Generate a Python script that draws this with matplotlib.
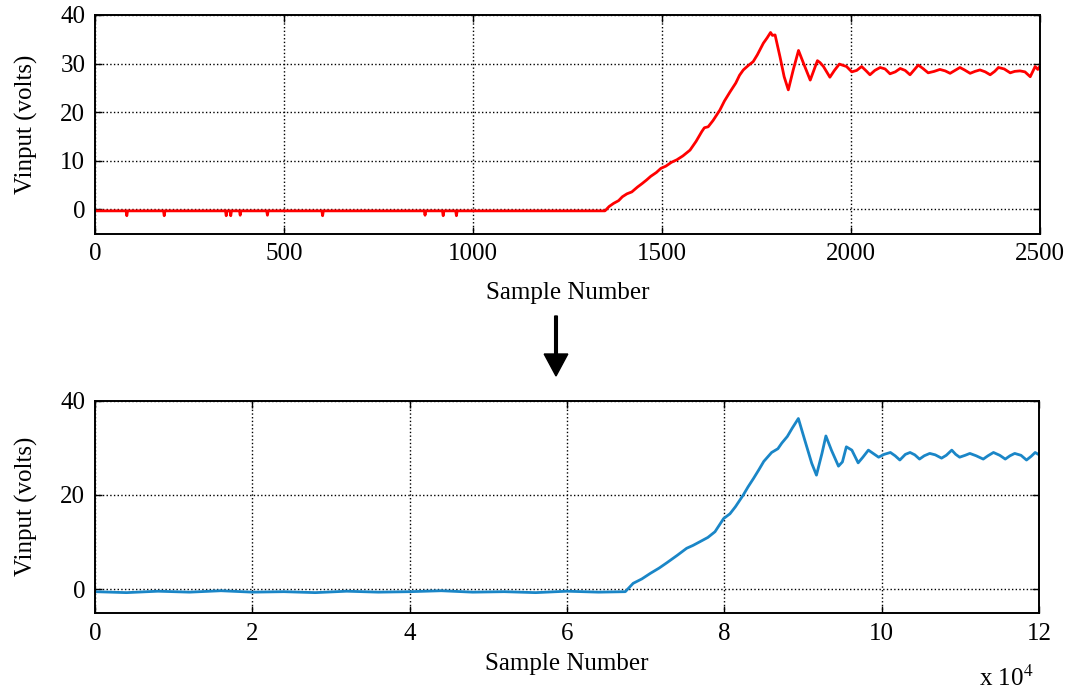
import matplotlib
matplotlib.use("Agg")
import matplotlib.pyplot as plt
from matplotlib.patches import FancyArrow
from matplotlib.ticker import FuncFormatter

plt.rcParams['font.family'] = ['Liberation Serif', 'DejaVu Serif']
plt.rcParams['mathtext.fontset'] = 'stix'

# Vinput recorded at the original rate (sample index, volts)
top_samples = [0, 82, 84, 86, 181, 183, 185, 345, 347, 349, 357, 359, 361,
               382, 384, 386, 454, 456, 458, 600, 602, 604, 871, 873, 875,
               919, 921, 923, 954, 956, 958, 1349, 1360, 1372, 1385, 1395,
               1407, 1420, 1435, 1447, 1459, 1470, 1485, 1497, 1510, 1525,
               1539, 1555, 1574, 1590, 1605, 1612, 1622, 1635, 1653, 1665,
               1680, 1695, 1705, 1715, 1728, 1741, 1752, 1760, 1768, 1778,
               1787, 1792, 1799, 1812, 1823, 1834, 1847, 1861, 1874, 1892,
               1911, 1918, 1927, 1944, 1956, 1969, 1988, 2002, 2015, 2028,
               2040, 2050, 2063, 2077, 2090, 2103, 2117, 2130, 2143, 2156,
               2168, 2178, 2190, 2204, 2220, 2235, 2249, 2262, 2275, 2288,
               2300, 2315, 2328, 2341, 2355, 2368, 2380, 2390, 2405, 2421,
               2433, 2447, 2460, 2474, 2487, 2494, 2500]
top_volts = [-0.3, -0.3, -1.3, -0.3, -0.3, -1.3, -0.3, -0.3, -1.3, -0.3,
             -0.3, -1.3, -0.3, -0.3, -1.2, -0.3, -0.3, -1.2, -0.3, -0.3,
             -1.3, -0.3, -0.3, -1.2, -0.3, -0.3, -1.3, -0.3, -0.3, -1.3,
             -0.3, -0.3, 0.6, 1.25, 1.8, 2.6, 3.2, 3.6, 4.6, 5.3, 6.05, 6.8,
             7.6, 8.45, 8.9, 9.7, 10.2, 11.0, 12.2, 14.0, 16.0, 16.8, 17.0,
             18.3, 20.45, 22.3, 24.2, 26.0, 27.6, 28.7, 29.6, 30.4, 31.8,
             33.0, 34.2, 35.3, 36.4, 35.8, 35.9, 31.4, 27.3, 24.6, 28.7,
             32.7, 30.1, 26.6, 30.6, 30.2, 29.4, 27.2, 28.6, 29.9, 29.4,
             28.3, 28.6, 29.4, 28.5, 27.7, 28.6, 29.2, 28.9, 27.9, 28.3,
             29.0, 28.6, 27.7, 28.8, 29.7, 29.0, 28.1, 28.4, 28.8, 28.5,
             28.0, 28.6, 29.2, 28.7, 28.0, 28.4, 28.7, 28.3, 27.7, 28.4,
             29.2, 28.9, 28.1, 28.4, 28.5, 28.3, 27.3, 29.4, 28.8, 29.5]

# Same signal after resampling (sample index, volts)
bot_samples = [0, 4000, 8000, 12000, 16000, 20000, 24000, 28000, 32000,
               36000, 40000, 44000, 48000, 52000, 56000, 60000, 64000,
               67400, 68400, 69500, 70600, 71700, 72700, 74000, 75200,
               76000, 76900, 77900, 78800, 79900, 80700, 81400, 82400,
               83000, 83700, 84400, 85000, 86000, 86800, 87300, 88000,
               88600, 89400, 90200, 91100, 91700, 92400, 92900, 93600,
               94500, 95000, 95500, 96200, 97000, 97600, 98300, 99600,
               100300, 101100, 101700, 102300, 103000, 103600, 104200,
               104800, 105400, 106100, 106800, 107600, 108200, 108900,
               109400, 109900, 110600, 111200, 112000, 112900, 113500,
               114200, 115000, 115700, 116300, 116900, 117700, 118400,
               119000, 119500, 120000]
bot_volts = [-0.5, -0.7, -0.4, -0.6, -0.3, -0.6, -0.5, -0.7, -0.4, -0.6,
             -0.5, -0.3, -0.6, -0.5, -0.7, -0.4, -0.6, -0.5, 1.27, 2.2,
             3.4, 4.5, 5.65, 7.2, 8.7, 9.3, 10.1, 11.0, 12.2, 15.0, 16.0,
             17.5, 20.0, 21.7, 23.5, 25.4, 27.1, 29.0, 29.8, 31.0, 32.4,
             34.1, 36.2, 31.7, 26.7, 24.2, 28.8, 32.5, 29.5, 26.1, 27.0,
             30.2, 29.5, 26.8, 28.0, 29.5, 28.0, 28.6, 29.0, 28.3, 27.4,
             28.6, 29.0, 28.5, 27.6, 28.3, 28.8, 28.5, 27.8, 28.4, 29.5,
             28.6, 28.0, 28.4, 28.8, 28.3, 27.6, 28.3, 29.0, 28.4, 27.6,
             28.3, 28.8, 28.4, 27.4, 28.2, 29.0, 28.5]

top_xticks = [0, 500, 1000, 1500, 2000, 2500]
top_yticks = [0, 10, 20, 30, 40]
bot_xticks = [0, 20000, 40000, 60000, 80000, 100000, 120000]
bot_yticks = [0, 20, 40]

fig = plt.figure(figsize=(10.74, 6.91), dpi=100)
ax1 = fig.add_axes([0.0885, 0.6618, 0.8799, 0.3165])
ax2 = fig.add_axes([0.0885, 0.1130, 0.8790, 0.3073])

ax1.plot(top_samples, top_volts, color='#ff0000', lw=2.0)
ax2.plot(bot_samples, bot_volts, color='#1a86c7', lw=2.0)

ax1.set_xlim(0, 2500)
ax1.set_ylim(-5, 40)
ax1.set_xticks(top_xticks)
ax1.set_yticks(top_yticks)

ax2.set_xlim(0, 120000)
ax2.set_ylim(-5, 40)
ax2.set_xticks(bot_xticks)
ax2.set_yticks(bot_yticks)
ax2.xaxis.set_major_formatter(FuncFormatter(lambda v, p: f"{v / 1e4:g}"))

for ax in (ax1, ax2):
    ax.grid(True, color='black', linestyle=':', linewidth=1.0)
    ax.tick_params(direction='in', top=True, right=True, length=5,
                   width=1.0, labelsize=18, pad=7)
    for sp in ax.spines.values():
        sp.set_linewidth(1.4)
    ax.set_ylabel('Vinput (volts)', fontsize=18, labelpad=16)

ax1.set_xlabel('Sample Number', fontsize=18, labelpad=12)
ax2.set_xlabel('Sample Number', fontsize=18, labelpad=6)

# exponent for the lower x axis
fig.text(0.912, 0.0, 'x 10$^{4}$', fontsize=18, ha='left', va='bottom')

# arrow between the two panels
fig.add_artist(FancyArrow(
    556 / 1074, 1 - 316 / 691, 0, -60 / 691, width=0.0025,
    head_width=0.022, head_length=22 / 691, length_includes_head=True,
    color='black', transform=fig.transFigure))

fig.savefig('out.png', dpi=100)
